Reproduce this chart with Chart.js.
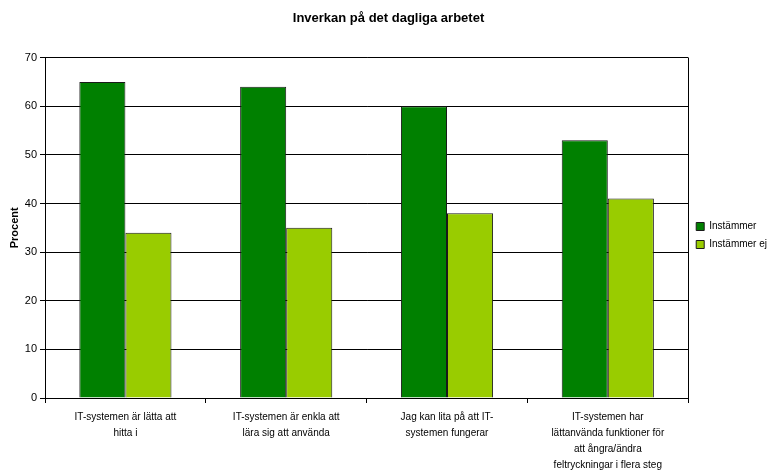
<!DOCTYPE html>
<html lang="sv">

<head>
    <meta charset="UTF-8">
    <title>Inverkan på det dagliga arbetet</title>
    <style>
        html,
        body {
            padding: 0;
            margin: 0;
            background: #fff;
        }

        .chart-container {
            width: 771px;
            height: 471px;
        }
    </style>
</head>

<body>
    <div class="chart-container">
        <canvas id="impactChart"></canvas>
    </div>
</body>

<script src="https://cdn.jsdelivr.net/npm/chart.js@4.4.6/dist/chart.umd.min.js"></script>
<script>
    const categories = [
        ['IT-systemen är lätta att', 'hitta i'],
        ['IT-systemen är enkla att', 'lära sig att använda'],
        ['Jag kan lita på att IT-', 'systemen fungerar'],
        ['IT-systemen har', 'lättanvända funktioner för', 'att ångra/ändra', 'feltryckningar i flera steg'],
    ];
    const agree = [65, 64, 60, 53];
    const disagree = [34, 35, 38, 41];
    const yTicks = [0, 10, 20, 30, 40, 50, 60, 70];

    const font = 'Arial, "Liberation Sans", sans-serif';
    Chart.defaults.font.family = font;
    Chart.defaults.color = '#000';

    // right-hand frame line of the plot area
    const frame = {
        id: 'frame',
        afterDatasetsDraw(chart) {
            const { ctx, chartArea: a } = chart;
            ctx.save();
            ctx.strokeStyle = '#000';
            ctx.lineWidth = 1;
            ctx.beginPath();
            ctx.moveTo(Math.round(a.right) + 0.5, a.top);
            ctx.lineTo(Math.round(a.right) + 0.5, a.bottom);
            ctx.stroke();
            ctx.restore();
        }
    };

    const chart = new Chart(document.getElementById('impactChart'), {
        type: 'bar',
        data: {
            labels: categories,
            datasets: [{
                label: 'Instämmer',
                data: agree,
                backgroundColor: '#008000',
                borderColor: '#1a1a1a',
                borderWidth: 1,
            }, {
                label: 'Instämmer ej',
                data: disagree,
                backgroundColor: '#99cc00',
                borderColor: '#1a1a1a',
                borderWidth: 1,
            }]
        },
        options: {
            animation: false,
            responsive: true,
            maintainAspectRatio: false,
            layout: { padding: { left: 0, right: -6, top: 0, bottom: 0 } },
            datasets: {
                bar: { categoryPercentage: 0.573, barPercentage: 1 }
            },
            scales: {
                x: {
                    grid: {
                        offset: true,
                        drawOnChartArea: false,
                        color: '#000',
                        tickLength: 5,
                    },
                    border: { color: '#000' },
                    ticks: {
                        font: { size: 10, lineHeight: 1.6 },
                        maxRotation: 0,
                        autoSkip: false,
                        padding: 6,
                    },
                    afterFit: (s) => { s.height = 73; },
                },
                y: {
                    min: 0,
                    max: 70,
                    afterBuildTicks: (s) => { s.ticks = yTicks.map(v => ({ value: v })); },
                    grid: { color: '#000', tickLength: 5 },
                    border: { color: '#000' },
                    ticks: { font: { size: 11 }, padding: 3 },
                    title: {
                        display: true,
                        text: 'Procent',
                        font: { size: 11, weight: 'bold' },
                        padding: { top: 8, bottom: 0 },
                    },
                    afterFit: (s) => { s.width = 45; },
                }
            },
            plugins: {
                title: {
                    display: true,
                    text: 'Inverkan på det dagliga arbetet',
                    font: { size: 13, weight: 'bold' },
                    padding: { top: 11, bottom: 31 },
                },
                legend: {
                    position: 'right',
                    labels: {
                        boxWidth: 8,
                        boxHeight: 8,
                        padding: 8,
                        font: { size: 10 },
                    },
                },
                tooltip: { enabled: false },
            },
        },
        plugins: [frame],
    });
</script>

</html>
